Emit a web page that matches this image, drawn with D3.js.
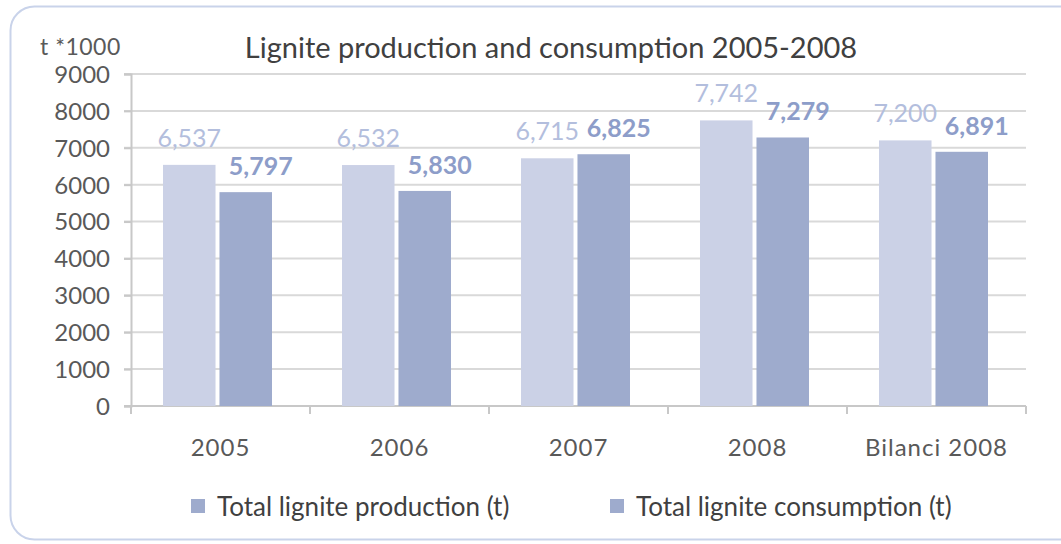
<!DOCTYPE html>
<html>
<head>
<meta charset="utf-8">
<script src="https://cdn.jsdelivr.net/npm/d3@7"></script>
<style>
  body { margin: 0; background: #fff; }
  text { font-family: Lato, "Open Sans", sans-serif; }
</style>
</head>
<body>
<div id="chart"></div>
<script>
// data
var categories = ["2005", "2006", "2007", "2008", "Bilanci 2008"];
var production = [6537, 6532, 6715, 7742, 7200];
var consumption = [5797, 5830, 6825, 7279, 6891];
var seriesNames = ["Total lignite production (t)", "Total lignite consumption (t)"];
var yTicks = [0, 1000, 2000, 3000, 4000, 5000, 6000, 7000, 8000, 9000];

var W = 1061, H = 544;
var margin = {top: 74, right: 35, bottom: 138, left: 131},
    width = W - margin.left - margin.right,
    height = H - margin.top - margin.bottom;

var svg = d3.select("#chart").append("svg")
    .attr("width", W).attr("height", H);

// rounded frame
svg.append("rect")
    .attr("x", 10.5).attr("y", 6.5)
    .attr("width", 1080).attr("height", 533)
    .attr("rx", 24)
    .attr("fill", "none")
    .attr("stroke", "#c9d3ea")
    .attr("stroke-width", 2);

var g = svg.append("g")
    .attr("transform", "translate(" + margin.left + "," + margin.top + ")");

var x = d3.scaleBand().domain(categories).range([0, width]);
var y = d3.scaleLinear().domain([0, 9000]).range([height, 0]);

// gridlines
g.append("g").selectAll("line")
    .data(yTicks.slice(1))
    .enter().append("line")
    .attr("x1", -7).attr("x2", width)
    .attr("y1", d => y(d)).attr("y2", d => y(d))
    .attr("stroke", "#d9d9d9").attr("stroke-width", 2);

// y axis
var yAxis = g.append("g")
    .call(d3.axisLeft(y).tickValues(yTicks).tickFormat(d3.format("d")).tickSize(7).tickPadding(14));
yAxis.select(".domain").attr("stroke", "#c8c8c8").attr("stroke-width", 2);
yAxis.selectAll(".tick line").attr("stroke", "#c8c8c8").attr("stroke-width", 2);
yAxis.selectAll("text").attr("font-size", 24).attr("fill", "#595959")
    .attr("font-family", "Lato, sans-serif").attr("dy", "0.35em");

// x axis with ticks on category boundaries
var xAxisG = g.append("g").attr("transform", "translate(0," + height + ")");
xAxisG.append("line")
    .attr("x1", -7).attr("x2", width)
    .attr("stroke", "#c8c8c8").attr("stroke-width", 2);
xAxisG.selectAll(".bound")
    .data(d3.range(categories.length + 1))
    .enter().append("line")
    .attr("x1", i => i * x.bandwidth()).attr("x2", i => i * x.bandwidth())
    .attr("y1", 0).attr("y2", 8)
    .attr("stroke", "#c8c8c8").attr("stroke-width", 2);
xAxisG.selectAll(".xlab")
    .data(categories)
    .enter().append("text")
    .attr("x", d => x(d) + x.bandwidth() / 2)
    .attr("y", 50)
    .attr("text-anchor", "middle")
    .attr("font-size", 24)
    .attr("letter-spacing", 1)
    .attr("fill", "#595959")
    .text(d => d);

// bars
var inner = d3.scaleBand().domain([0, 1]).range([32, 32 + 109]).paddingInner(0.07);
var colors = ["#cbd1e6", "#9eabcd"];
var series = [production, consumption];

series.forEach(function(vals, s) {
    g.append("g").selectAll("rect")
        .data(vals)
        .enter().append("rect")
        .attr("x", (d, i) => x(categories[i]) + inner(s))
        .attr("y", d => y(d))
        .attr("width", inner.bandwidth())
        .attr("height", d => height - y(d))
        .attr("fill", colors[s]);
});

// value labels
var fmt = d3.format(",");
g.append("g").selectAll("text")
    .data(production)
    .enter().append("text")
    .attr("x", (d, i) => x(categories[i]) + inner(0) + inner.bandwidth() / 2)
    .attr("y", d => y(d) - 18)
    .attr("text-anchor", "middle")
    .attr("font-size", 25)
    .attr("fill", "#b3bedd")
    .text(d => fmt(d));

g.append("g").selectAll("text")
    .data(consumption)
    .enter().append("text")
    .attr("x", (d, i) => x(categories[i]) + inner(1) + inner.bandwidth() / 2 + 15)
    .attr("y", d => y(d) - 17)
    .attr("text-anchor", "middle")
    .attr("font-size", 25)
    .attr("font-weight", "bold")
    .attr("fill", "#8d9dc9")
    .text(d => fmt(d));

// title and unit
svg.append("text")
    .attr("x", 551).attr("y", 58)
    .attr("text-anchor", "middle")
    .attr("font-size", 29)
    .attr("fill", "#404040")
    .text("Lignite production and consumption 2005-2008");

svg.append("text")
    .attr("x", 40).attr("y", 55)
    .attr("font-size", 23)
    .attr("letter-spacing", 0.5)
    .attr("fill", "#595959")
    .text("t *1000");

// legend
var legendX = [191, 610];
var leg = svg.append("g").selectAll("g")
    .data(seriesNames)
    .enter().append("g")
    .attr("transform", (d, i) => "translate(" + legendX[i] + ",499)");
leg.append("rect")
    .attr("width", 14).attr("height", 14)
    .attr("fill", "#9eabcd");
leg.append("text")
    .attr("x", 26).attr("y", 17)
    .attr("font-size", 26)
    .attr("fill", "#404040")
    .text(d => d);
</script>
</body>
</html>
